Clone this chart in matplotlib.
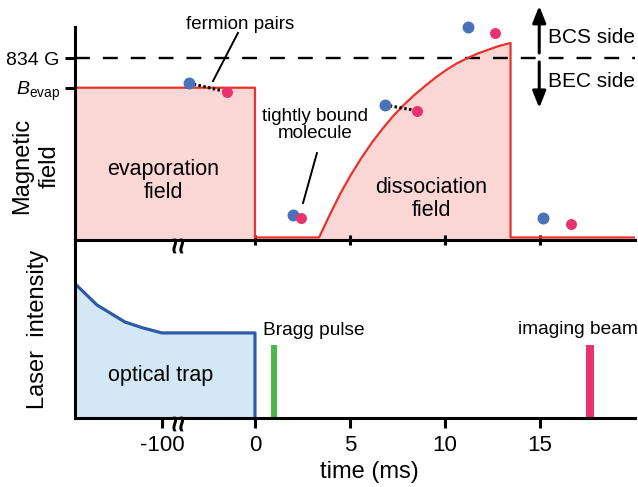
import numpy as np
import matplotlib.pyplot as plt

plt.rcParams['font.family'] = ['Liberation Sans', 'DejaVu Sans']
plt.rcParams['mathtext.fontset'] = 'custom'
plt.rcParams['mathtext.rm'] = 'Liberation Sans'
plt.rcParams['mathtext.it'] = 'Liberation Sans:italic'

# ---- data (time in ms, field / intensity in arb. units) ----
field_t = [-194, 0, 0, 3.37, 3.93, 4.48, 5.04, 5.6, 6.16, 6.72, 7.27, 7.83, 8.39,
           8.95, 9.51, 10.06, 10.62, 11.18, 11.74, 12.3, 12.85, 13.45, 13.45, 20]
field_b = [0.715, 0.715, 0.012, 0.012, 0.117, 0.216, 0.305, 0.385, 0.458, 0.523, 0.582,
           0.634, 0.681, 0.723, 0.763, 0.798, 0.829, 0.854, 0.876, 0.894, 0.911, 0.925,
           0.012, 0.012]

trap_t = [-194, -169.7, -139.6, -120.3, -100, 0, 0]
trap_i = [0.758, 0.635, 0.539, 0.506, 0.478, 0.478, 0.0]

pulse_t = [0.98, 17.63]
pulse_h = [0.41, 0.41]
pulse_names = ['Bragg pulse', 'imaging beam']

blue_t = [-70.9, 1.98, 6.84, 11.19, 15.16]
blue_b = [0.737, 0.117, 0.634, 0.998, 0.103]
pink_t = [-30.1, 2.40, 8.51, 12.63, 16.63]
pink_b = [0.695, 0.102, 0.607, 0.970, 0.075]
paired = [True, False, True, False, False]

b_ticks = [0.715, 0.853]
b_labels = [r'$B_{\mathrm{evap}}$', '834 G']
t_ticks = [-100, 0, 5, 10, 15]
t_labels = ['-100', '0', '5', '10', '15']

# compressed negative time axis
K = 0.049
def fwd(t):
    t = np.asarray(t, float)
    return np.where(t < 0, t * K, t)
def inv(u):
    u = np.asarray(u, float)
    return np.where(u < 0, u / K, u)

RED = '#e8322c'
PINKFILL = '#fad6d4'
BLUE = '#2f5aa8'
BLUEFILL = '#d3e7f5'
GREEN = '#4cb848'
PINK = '#e8336e'
DOTBLUE = '#4a72b8'
LW = 2.2

fig = plt.figure(figsize=(6.38, 4.87), dpi=100)
W, H = 638.0, 487.0
ax_b = fig.add_axes([75 / W, 1 - 418 / H, 560 / W, 178 / H])
ax_t = fig.add_axes([75 / W, 1 - 240 / H, 560 / W, 213 / H])

for ax in (ax_t, ax_b):
    ax.set_xscale('function', functions=(fwd, inv))
    ax.set_xlim(-193.3, 20)
    ax.set_ylim(0, 1)
    ax.patch.set_alpha(0)
    for s in ('top', 'right'):
        ax.spines[s].set_visible(False)
    for s in ('left', 'bottom'):
        ax.spines[s].set_linewidth(LW)

# ---- top: magnetic field ----
ax_t.fill_between(field_t, 0, field_b, color=PINKFILL, lw=0, zorder=1)
ax_t.axhline(0.853, color='k', lw=1.7, ls=(0, (6.3, 5.5)), zorder=1.5)
ax_t.plot(field_t, field_b, color=RED, lw=1.6, zorder=2)

for i in range(len(blue_t)):
    if paired[i]:
        ax_t.plot([blue_t[i], pink_t[i]], [blue_b[i], pink_b[i]], color='k',
                  lw=2.2, ls=(0, (0.8, 0.8)), zorder=3)
ax_t.plot(blue_t, blue_b, 'o', color=DOTBLUE, ms=8.6, mew=0, zorder=4, clip_on=False)
ax_t.plot(pink_t, pink_b, 'o', color=PINK, ms=7.9, mew=0, zorder=5, clip_on=False)

ax_t.set_xticks([0, 5, 10, 15], labels=[])
ax_t.tick_params(axis='x', direction='inout', length=6.5, width=LW)
ax_t.set_yticks(b_ticks, labels=b_labels)
ax_t.tick_params(axis='y', direction='out', length=7, width=LW, labelsize=14, pad=4)

ax_t.text(-16.1, 1.014, 'fermion pairs', fontsize=13.5, ha='center', va='center')
ax_t.plot([-18.3, -45.1], [0.972, 0.746], color='k', lw=1.4)
ax_t.text(3.16, 0.54, 'tightly bound\nmolecule', fontsize=13.5, ha='center',
          va='center', linespacing=1.05)
ax_t.plot([3.26, 2.53], [0.408, 0.174], color='k', lw=1.4)
ax_t.text(-98.3, 0.277, 'evaporation\nfield', fontsize=15.5, ha='center',
          va='center', linespacing=1.1)
ax_t.text(9.29, 0.193, 'dissociation\nfield', fontsize=15.5, ha='center',
          va='center', linespacing=1.1)
ax_t.text(15.42, 0.953, 'BCS side', fontsize=15, ha='left', va='center')
ax_t.text(15.42, 0.742, 'BEC side', fontsize=15, ha='left', va='center')
arrow = dict(arrowstyle='-|>,head_length=0.5,head_width=0.2', lw=LW,
             color='k', mutation_scale=20, shrinkA=0, shrinkB=0)
ax_t.annotate('', xy=(14.96, 1.099), xytext=(14.96, 0.878), arrowprops=arrow,
              annotation_clip=False)
ax_t.annotate('', xy=(14.96, 0.62), xytext=(14.96, 0.836), arrowprops=arrow,
              annotation_clip=False)

# ---- bottom: laser intensity ----
ax_b.fill_between(trap_t, 0, trap_i, color=BLUEFILL, lw=0, zorder=1)
ax_b.plot(trap_t, trap_i, color=BLUE, lw=2.3, zorder=2)
ax_b.bar(pulse_t, pulse_h, width=[0.32, 0.42], color=[GREEN, PINK], zorder=2)
ax_b.text(-101, 0.236, 'optical trap', fontsize=15.5, ha='center', va='center')
ax_b.text(0.42, 0.466, pulse_names[0], fontsize=13.8, ha='left', va='baseline')
ax_b.text(13.84, 0.472, pulse_names[1], fontsize=13.8, ha='left', va='baseline')

ax_b.set_xticks(t_ticks, labels=t_labels)
ax_b.tick_params(axis='x', direction='out', length=7, width=LW, labelsize=16, pad=5)
ax_b.set_yticks([])
ax_b.set_xlabel('time (ms)', fontsize=17, labelpad=1)
ax_b.xaxis.set_label_coords(0.525, -0.24)

# axis break marks
for ax in (ax_t, ax_b):
    ax.annotate('\u2248', xy=(-80, 0), xytext=(0, -3.5), textcoords='offset points',
                rotation=90, ha='center', va='center', fontsize=21,
                fontweight='bold', annotation_clip=False, zorder=6)

fig.text(36 / W, 1 - 166 / H, 'Magnetic\nfield', rotation=90, ha='center',
         va='center', fontsize=17, linespacing=1.3)
fig.text(38.5 / W, 1 - 329 / H, 'Laser  intensity', rotation=90, ha='center',
         va='center', fontsize=17)

fig.savefig('out.png', dpi=100)
